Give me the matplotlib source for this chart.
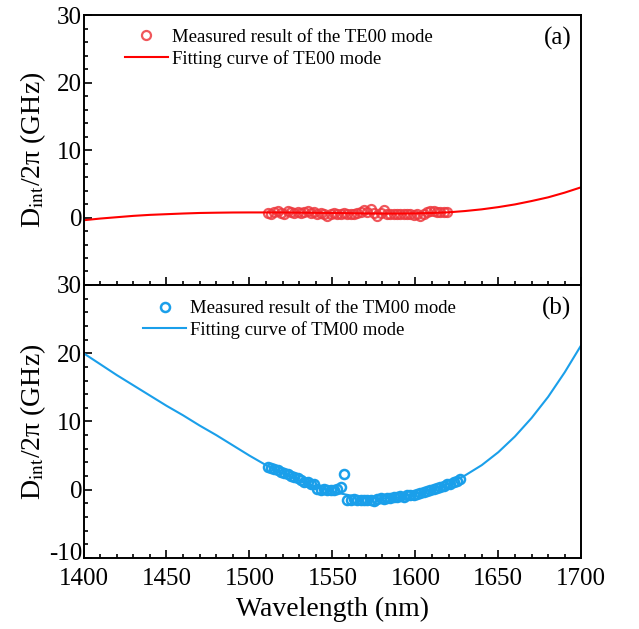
import numpy as np
import matplotlib
matplotlib.use('Agg')
import matplotlib.pyplot as plt
import matplotlib.transforms as mtrans
from matplotlib.ticker import MultipleLocator

# fitted curves, sampled every 10 nm
wl_fit = [1400, 1410, 1420, 1430, 1440, 1450, 1460, 1470, 1480, 1490, 1500,
          1510, 1520, 1530, 1540, 1550, 1560, 1570, 1580, 1590, 1600,
          1610, 1620, 1630, 1640, 1650, 1660, 1670, 1680, 1690, 1700]
te_fit = [-0.4, -0.15, 0.05, 0.25, 0.4, 0.5, 0.6, 0.68, 0.72, 0.75, 0.76,
          0.76, 0.75, 0.73, 0.7, 0.68, 0.65, 0.62, 0.6, 0.6, 0.62,
          0.68, 0.78, 0.97, 1.22, 1.55, 1.95, 2.45, 3.0, 3.7, 4.5]
tm_fit = [20.0, 18.4, 16.8, 15.3, 13.8, 12.3, 10.9, 9.4, 8.0, 6.5, 5.0,
          3.6, 2.4, 1.3, 0.4, -0.3, -0.8, -1.15, -1.3, -1.1, -0.6,
          0.0, 0.9, 2.1, 3.6, 5.5, 7.8, 10.5, 13.6, 17.2, 21.2]

# measured points
wl_te = [1511, 1513, 1515, 1517, 1519, 1521, 1523, 1525, 1527, 1529, 1531, 1533,
         1535, 1537, 1539, 1541, 1543, 1545, 1547, 1549, 1551, 1553, 1555, 1557,
         1559, 1561, 1563, 1565, 1567, 1569, 1571, 1573, 1575, 1577, 1579, 1581,
         1583, 1585, 1587, 1589, 1591, 1593, 1595, 1597, 1599, 1601, 1603, 1605,
         1607, 1609, 1611, 1613, 1615, 1617, 1619]
te_meas = [0.7, 0.6, 0.8, 0.9, 0.7, 0.6, 0.9, 0.8, 0.7, 0.8, 0.7, 0.8,
           0.9, 0.7, 0.8, 0.6, 0.7, 0.5, 0.2, 0.6, 0.7, 0.6, 0.6, 0.7,
           0.5, 0.6, 0.6, 0.7, 0.8, 1.1, 0.8, 1.2, 0.7, 0.2, 0.7, 1.1,
           0.6, 0.5, 0.6, 0.6, 0.6, 0.5, 0.6, 0.6, 0.4, 0.5, 0.3, 0.6,
           0.8, 0.9, 0.9, 0.8, 0.8, 0.8, 0.8]

wl_tm = [1511, 1513, 1515, 1517, 1519, 1521, 1523, 1525, 1527, 1529, 1531, 1533,
         1535, 1537, 1539, 1541, 1543, 1545, 1547, 1549, 1551, 1553, 1555, 1557,
         1559, 1561, 1563, 1565, 1567, 1569, 1571, 1573, 1575, 1577, 1579, 1581,
         1583, 1585, 1587, 1589, 1591, 1593, 1595, 1597, 1599, 1601, 1603, 1605,
         1607, 1609, 1611, 1613, 1615, 1617, 1619, 1621, 1623, 1625, 1627]
tm_meas = [3.4, 3.2, 3.0, 2.9, 2.6, 2.4, 2.3, 2.0, 1.9, 1.7, 1.4, 1.2,
           1.1, 0.9, 0.9, 0.1, 0.0, 0.1, -0.1, 0.0, 0.0, 0.1, 0.4, 2.3,
           -1.5, -1.5, -1.4, -1.5, -1.5, -1.5, -1.5, -1.5, -1.6, -1.3, -1.2, -1.3,
           -1.2, -1.2, -1.0, -1.1, -0.9, -1.0, -0.8, -0.8, -0.7, -0.6, -0.5, -0.4,
           -0.2, -0.1, 0.1, 0.3, 0.4, 0.6, 0.8, 0.9, 1.1, 1.3, 1.5]

red = '#FF0000'
red_m = '#EE3A3F'
blue = '#1A9FEA'

plt.rcParams['font.family'] = 'Liberation Serif'
plt.rcParams['mathtext.fontset'] = 'stix'
plt.rcParams['axes.unicode_minus'] = False

fig = plt.figure(figsize=(6.39, 6.29), dpi=100)
ax1 = fig.add_axes([0.1307, 0.547, 0.779, 0.4285])
ax2 = fig.add_axes([0.1307, 0.1129, 0.779, 0.4341])

ylab = 'D$_{\\mathrm{int}}$/2π (GHz)'

ax1.plot(wl_te, te_meas, 'o', ms=6.5, mfc='none', mec=red_m, mew=1.6, alpha=0.85,
         label='Measured result of the TE00 mode')
ax1.plot(wl_fit, te_fit, '-', color=red, lw=1.5, label='Fitting curve of TE00 mode')
ax1.set_ylim(-10, 30)
ax1.set_yticks([0, 10, 20, 30])
ax1.tick_params(labelbottom=False)
ax1.text(0.98, 0.915, '(a)', transform=ax1.transAxes, ha='right', va='center', fontsize=18)
ax1.legend(loc='upper left', bbox_to_anchor=(0.083, 0.95), frameon=False, fontsize=13.5,
           handlelength=2.3, handletextpad=0.2, labelspacing=0.2, borderpad=0,
           borderaxespad=0)

ax2.plot(wl_tm, tm_meas, 'o', ms=6.5, mfc='none', mec=blue, mew=1.8,
         label='Measured result of the TM00 mode')
ax2.plot(wl_fit, tm_fit, '-', color=blue, lw=1.5, label='Fitting curve of TM00 mode')
ax2.set_ylim(-10, 30)
ax2.set_yticks([-10, 0, 10, 20, 30])
ax2.text(0.98, 0.915, '(b)', transform=ax2.transAxes, ha='right', va='center', fontsize=18)
ax2.legend(loc='upper left', bbox_to_anchor=(0.12, 0.945), frameon=False, fontsize=13.5,
           handlelength=2.3, handletextpad=0.2, labelspacing=0.2, borderpad=0,
           borderaxespad=0)
ax2.set_xlabel('Wavelength (nm)', fontsize=20, labelpad=5)

for ax in (ax1, ax2):
    ax.set_xlim(1400, 1700)
    ax.xaxis.set_major_locator(MultipleLocator(50))
    ax.xaxis.set_minor_locator(MultipleLocator(10))
    ax.yaxis.set_minor_locator(MultipleLocator(2))
    ax.tick_params(which='both', direction='in', top=False, right=False, labelsize=18, width=1.2)
    ax.tick_params(which='major', length=6)
    ax.tick_params(which='minor', length=3)
    ax.tick_params(axis='x', pad=7)
    ax.tick_params(axis='y', pad=1)
    for s in ax.spines.values():
        s.set_linewidth(1.4)
    ax.set_ylabel(ylab, fontsize=20)
    ax.yaxis.set_label_coords(-0.072, 0.5)

# lift the bottom "-10" label a little so it clears "1400"
fig.canvas.draw()
lift = mtrans.ScaledTranslation(0, 5 / 72, fig.dpi_scale_trans)
ax2.get_yticklabels()[0].set_transform(ax2.get_yticklabels()[0].get_transform() + lift)

fig.savefig('out.png', dpi=100)
